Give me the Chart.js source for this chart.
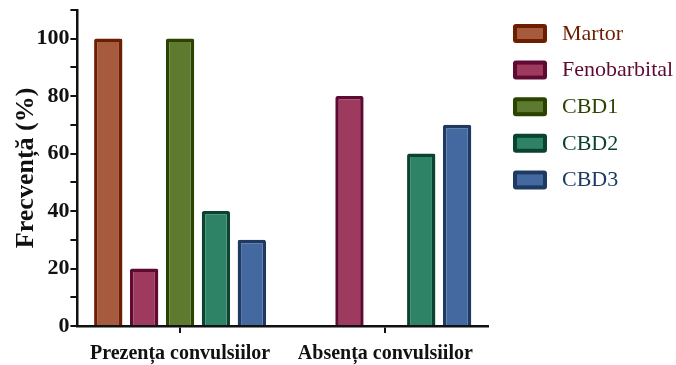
<!DOCTYPE html>
<html lang="ro">
<head>
<meta charset="UTF-8">
<title>Frecvența convulsiilor</title>
<script src="https://cdn.jsdelivr.net/npm/chart.js"></script>
<style>
  body { margin: 0; background: #fff; }
  #wrap { width: 676px; height: 365px; }
</style>
</head>
<body>
<div id="wrap"><canvas id="grafic" width="676" height="365"></canvas></div>
<script>
// Categorii si valori (%)
const categorii = ["Prezența convulsiilor", "Absența convulsiilor"];
const grupe = ["Martor", "Fenobarbital", "CBD1", "CBD2", "CBD3"];
const martor = [100, 0];
const fenobarbital = [20, 80];
const cbd1 = [100, 0];
const cbd2 = [40, 60];
const cbd3 = [30, 70];
const valoriY = [0, 20, 40, 60, 80, 100];

const umplere = ["#a65a3e", "#9e3a5e", "#5e7a2e", "#2e8266", "#4468a0"];
const contur = ["#6e1e00", "#5e0a32", "#2a4400", "#0a4430", "#1e3a60"];
const serii = [martor, fenobarbital, cbd1, cbd2, cbd3];

const serif = "'Liberation Serif', 'Times New Roman', serif";

// legenda desenata in dreapta graficului
const legendaPlugin = {
  id: "legenda",
  afterDraw(chart) {
    const c = chart.ctx;
    c.save();
    chart.data.datasets.forEach((ds, i) => {
      const y = 33 + i * 36.6;
      c.fillStyle = ds.borderColor;
      c.beginPath();
      c.roundRect(513, y - 9, 34, 19, 3);
      c.fill();
      c.fillStyle = ds.backgroundColor;
      c.fillRect(517, y - 5, 26, 11);
      c.fillStyle = ds.borderColor;
      c.font = "22px " + serif;
      c.textBaseline = "middle";
      c.fillText(ds.label, 562, y + 1);
    });
    c.restore();
  }
};

new Chart(document.getElementById("grafic"), {
  type: "bar",
  data: {
    labels: categorii,
    datasets: grupe.map((g, i) => ({
      label: g,
      data: serii[i],
      backgroundColor: umplere[i],
      borderColor: contur[i],
      borderWidth: 3.5,
      borderRadius: 2,
      borderSkipped: "bottom",
      categoryPercentage: 0.874,
      barPercentage: 0.79
    }))
  },
  options: {
    responsive: false,
    animation: false,
    layout: { padding: { top: 5, right: 188, left: 15, bottom: 0 } },
    plugins: { legend: { display: false }, tooltip: { enabled: false } },
    scales: {
      x: {
        offset: true,
        afterFit(scale) { scale.height = 39; },
        grid: { display: true, offset: false, drawOnChartArea: false, color: "#111", lineWidth: 2, tickLength: 7 },
        border: { color: "#111", width: 2.5 },
        ticks: { color: "#111", font: { family: serif, size: 20, weight: "bold", lineHeight: 0.9 }, padding: 12 }
      },
      y: {
        min: 0,
        max: 110,
        afterBuildTicks(scale) {
          const t = [];
          for (let v = 0; v <= 110; v += 10) t.push({ value: v });
          scale.ticks = t;
        },
        grid: { display: true, drawOnChartArea: false, color: "#111", lineWidth: 2, tickLength: 7 },
        border: { color: "#111", width: 2.5 },
        ticks: {
          color: "#111",
          font: { family: serif, size: 22, weight: "bold", lineHeight: 0.8 },
          padding: 1,
          callback: v => valoriY.includes(v) ? v : ""
        },
        title: {
          display: true,
          text: "Frecvență (%)",
          color: "#111",
          font: { family: serif, size: 26, weight: "bold", lineHeight: 0.9 },
          padding: { top: 0, bottom: -3 }
        }
      }
    }
  },
  plugins: [legendaPlugin]
});
</script>
</body>
</html>
